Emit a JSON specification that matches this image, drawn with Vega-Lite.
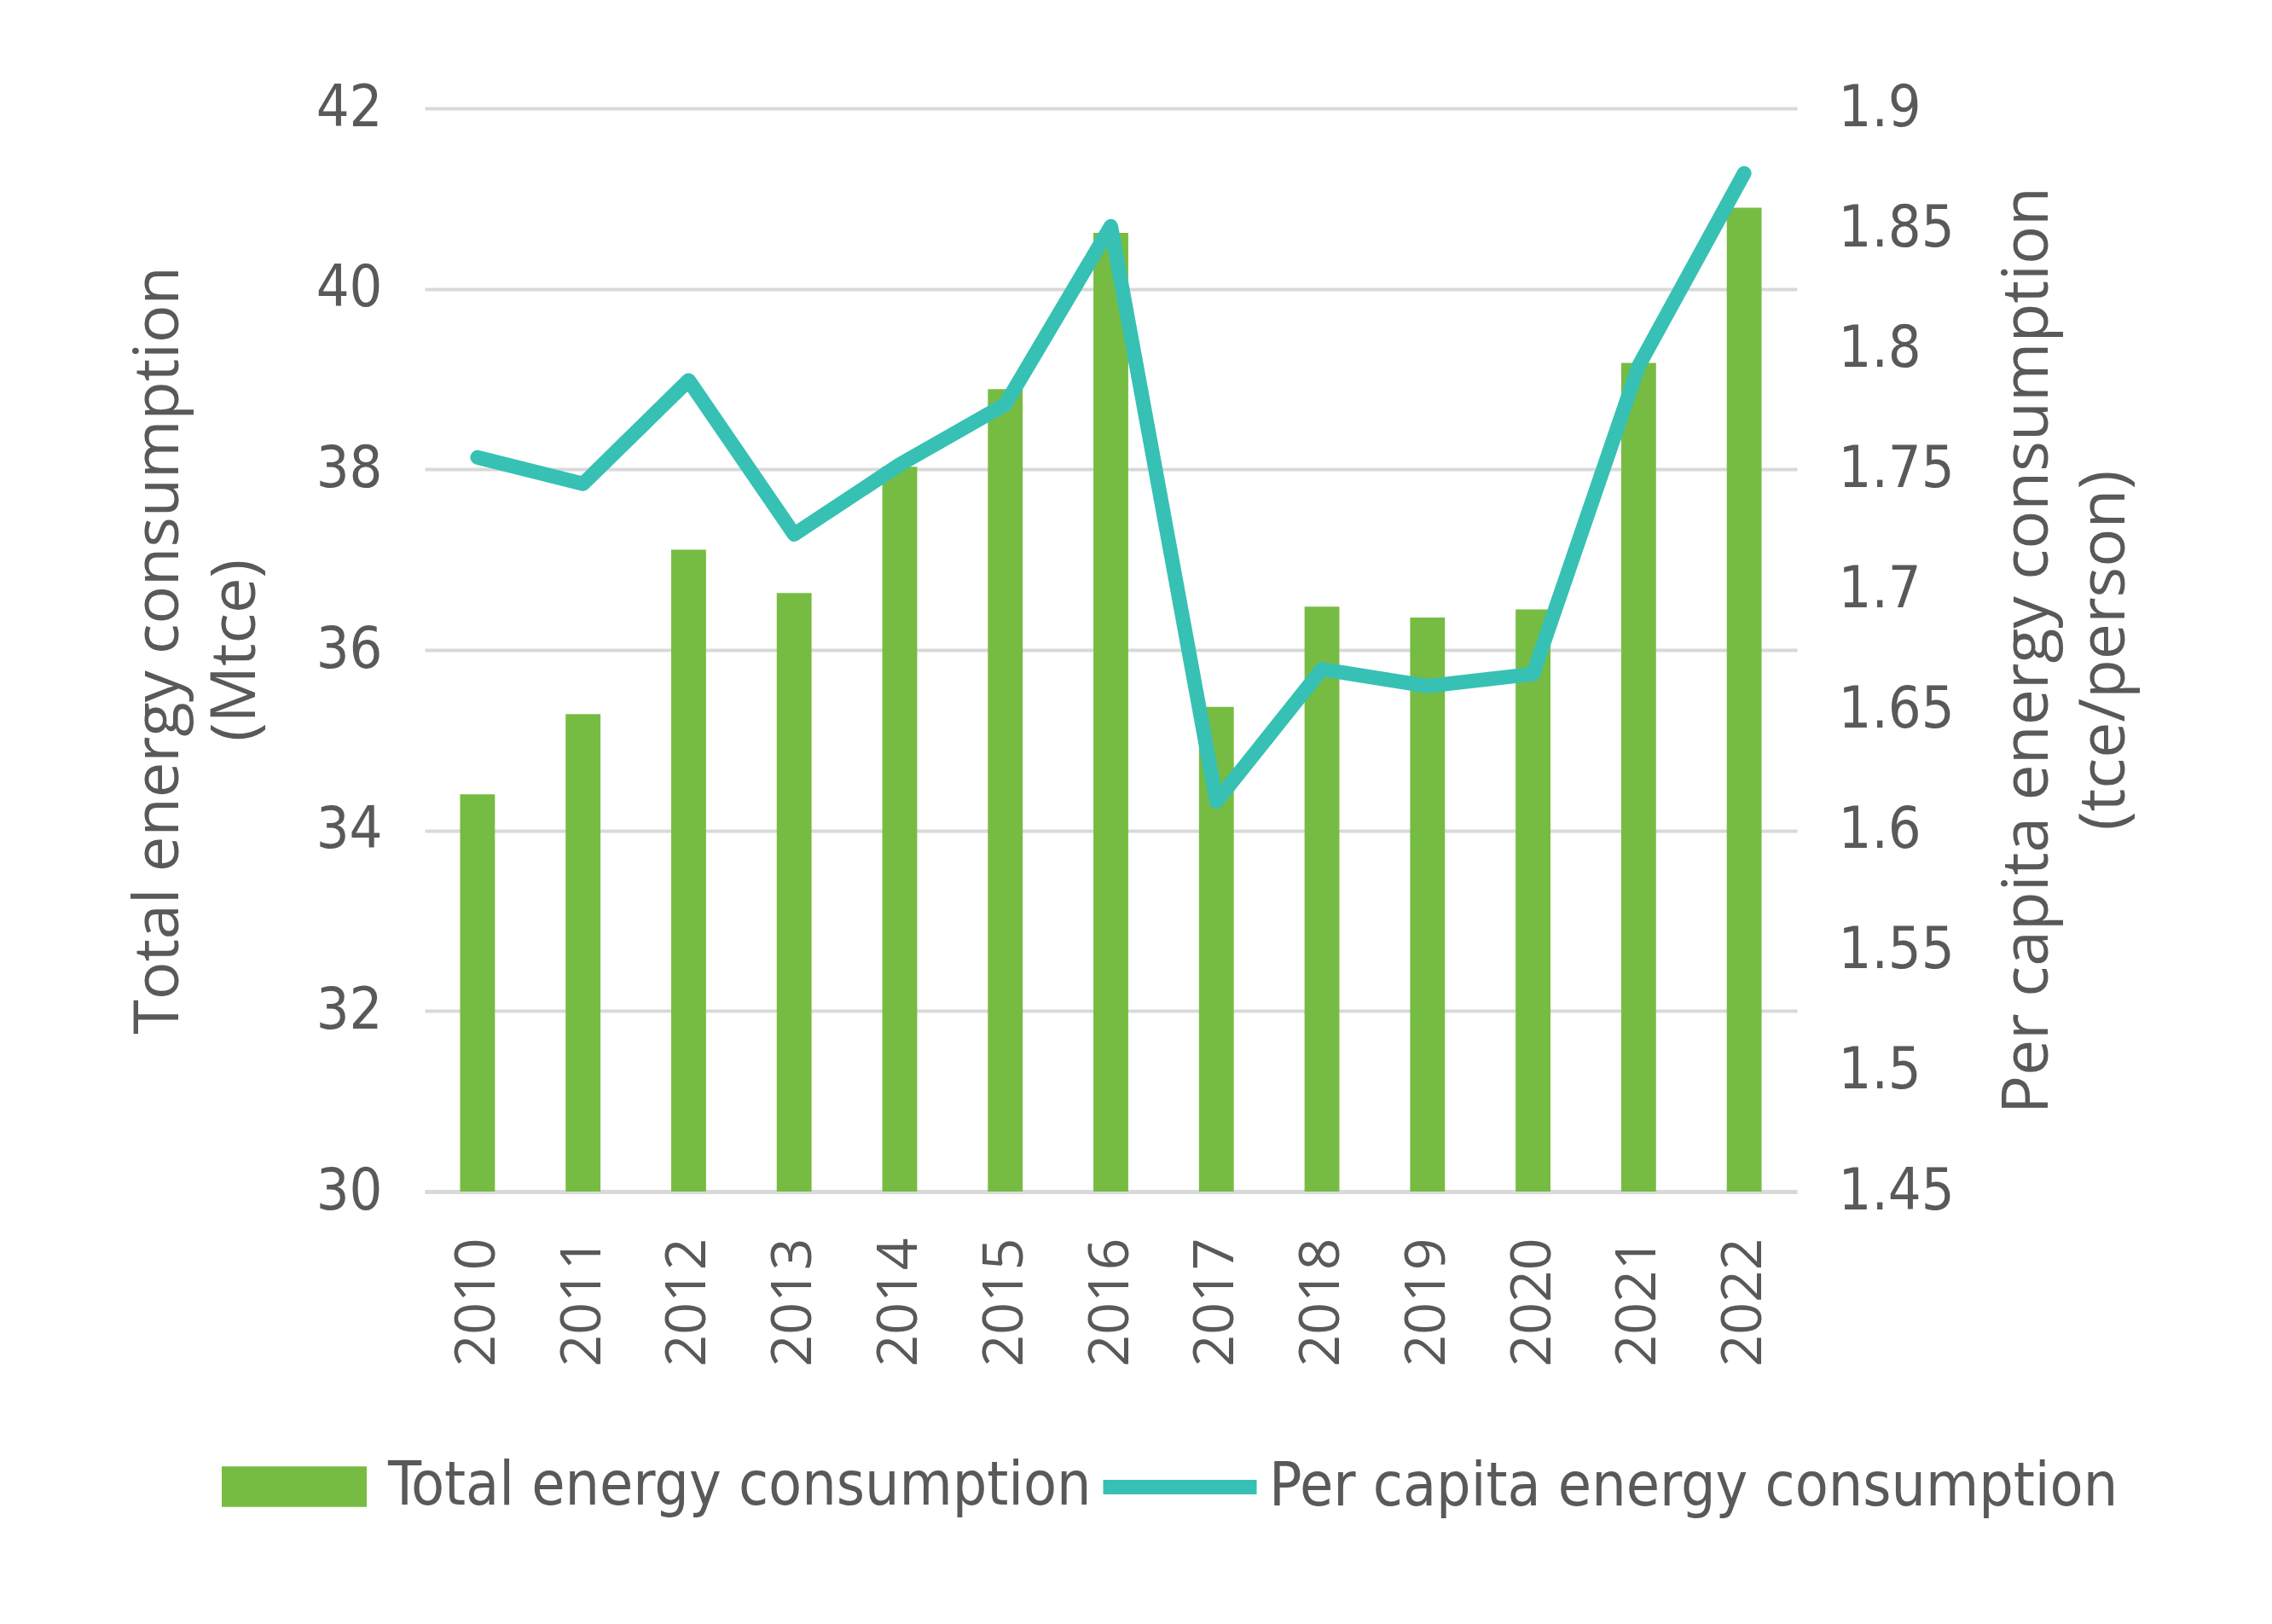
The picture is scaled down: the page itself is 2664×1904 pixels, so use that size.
{
  "$schema": "https://vega.github.io/schema/vega-lite/v6.json",
  "width": 1609,
  "height": 1270,
  "autosize": {"type": "none"},
  "padding": {"left": 498, "top": 127, "right": 557, "bottom": 507},
  "background": "white",
  "config": {"view": {"stroke": null}, "font": "Open Sans"},
  "data": {
    "values": [
      {"year": "2010", "total": 34.40, "percap": 1.755},
      {"year": "2011", "total": 35.29, "percap": 1.744},
      {"year": "2012", "total": 37.11, "percap": 1.787},
      {"year": "2013", "total": 36.63, "percap": 1.723},
      {"year": "2014", "total": 38.03, "percap": 1.752},
      {"year": "2015", "total": 38.89, "percap": 1.777},
      {"year": "2016", "total": 40.62, "percap": 1.851},
      {"year": "2017", "total": 35.37, "percap": 1.612},
      {"year": "2018", "total": 36.48, "percap": 1.667},
      {"year": "2019", "total": 36.36, "percap": 1.660},
      {"year": "2020", "total": 36.45, "percap": 1.665},
      {"year": "2021", "total": 39.18, "percap": 1.793},
      {"year": "2022", "total": 40.90, "percap": 1.873}
    ]
  },
  "encoding": {
    "x": {
      "field": "year",
      "type": "ordinal",
      "scale": {"paddingInner": 0.67, "paddingOuter": 0.335},
      "axis": {
        "title": null,
        "labelAngle": 270,
        "labelFont": "Open Sans",
        "labelFontSize": 66,
        "labelColor": "#595959",
        "labelPadding": 54,
        "ticks": false,
        "domain": true,
        "domainColor": "#d9d9d9",
        "domainWidth": 5,
        "grid": false
      }
    }
  },
  "layer": [
    {
      "mark": {"type": "bar", "clip": true},
      "encoding": {
        "y": {
          "field": "total",
          "type": "quantitative",
          "scale": {"domain": [30, 42], "zero": false, "nice": false},
          "axis": {
            "values": [30, 32, 34, 36, 38, 40, 42],
            "grid": true,
            "gridColor": "#d9d9d9",
            "gridWidth": 4,
            "domain": false,
            "ticks": false,
            "labelFont": "Liberation Sans Narrow, DejaVu Sans Condensed, sans-serif",
            "labelFontSize": 68,
            "labelColor": "#595959",
            "labelPadding": 50,
            "title": ["Total energy consumption", "(Mtce)"],
            "titleFont": "Open Sans",
            "titleFontSize": 74,
            "titleFontWeight": "normal",
            "titleColor": "#595959",
            "titleAngle": 270,
            "titleBaseline": "bottom",
            "titleLineHeight": 90,
            "titlePadding": 56,
            "titleLimit": 3000
          }
        },
        "fill": {
          "datum": "Total energy consumption",
          "scale": {"range": ["#76bc43"]},
          "legend": {
            "title": null,
            "orient": "none",
            "legendX": -238,
            "legendY": 1531,
            "symbolType": "M-1,-0.28H1V0.28H-1Z",
            "symbolSize": 28900,
            "symbolStrokeWidth": 0,
            "labelFont": "Liberation Sans Narrow, DejaVu Sans Condensed, sans-serif",
            "labelFontSize": 71,
            "labelColor": "#595959",
            "labelOffset": 25,
            "labelLimit": 2000
          }
        }
      }
    },
    {
      "mark": {"type": "line", "strokeWidth": 17, "strokeJoin": "round", "strokeCap": "round"},
      "encoding": {
        "y": {
          "field": "percap",
          "type": "quantitative",
          "scale": {"domain": [1.45, 1.9], "zero": false, "nice": false},
          "axis": {
            "orient": "right",
            "values": [1.45, 1.5, 1.55, 1.6, 1.65, 1.7, 1.75, 1.8, 1.85, 1.9],
            "format": ".2~f",
            "grid": false,
            "domain": false,
            "ticks": false,
            "labelFont": "Liberation Sans Narrow, DejaVu Sans Condensed, sans-serif",
            "labelFontSize": 68,
            "labelColor": "#595959",
            "labelPadding": 48,
            "title": ["Per capita energy consumption", "(tce/person)"],
            "titleFont": "Open Sans",
            "titleFontSize": 75,
            "titleFontWeight": "normal",
            "titleColor": "#595959",
            "titleAngle": 270,
            "titleBaseline": "top",
            "titleLineHeight": 90,
            "titlePadding": -40,
            "titleLimit": 3000
          }
        },
        "stroke": {
          "datum": "Per capita energy consumption",
          "scale": {"range": ["#36c1b4"]},
          "legend": {
            "title": null,
            "orient": "none",
            "legendX": 787,
            "legendY": 1518,
            "symbolType": "stroke",
            "symbolSize": 32400,
            "symbolStrokeWidth": 17,
            "labelFont": "Liberation Sans Narrow, DejaVu Sans Condensed, sans-serif",
            "labelFontSize": 71,
            "labelColor": "#595959",
            "labelOffset": 6,
            "labelLimit": 2000
          }
        }
      }
    }
  ],
  "resolve": {"scale": {"y": "independent", "fill": "independent", "stroke": "independent"}}
}
